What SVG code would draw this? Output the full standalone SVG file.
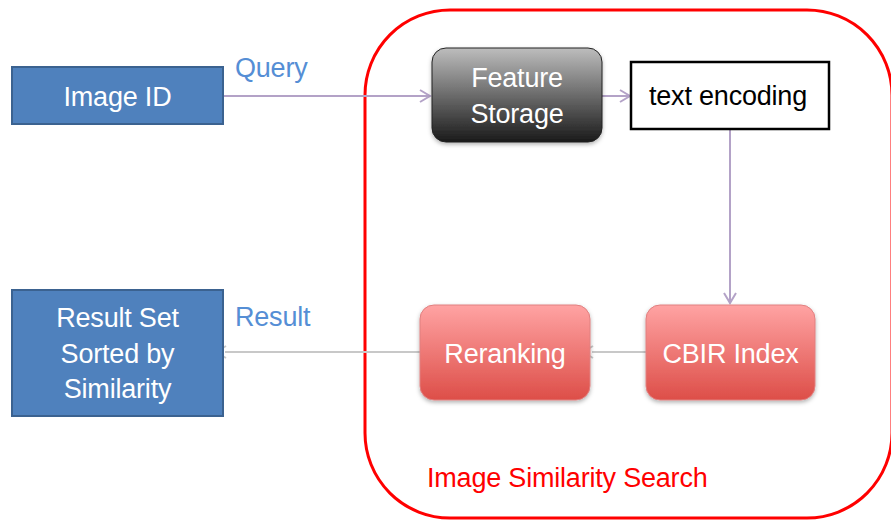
<svg xmlns="http://www.w3.org/2000/svg" width="891" height="520" viewBox="0 0 891 520">
<defs>
<linearGradient id="gGray" x1="0" y1="0" x2="0" y2="1">
<stop offset="0" stop-color="#BDBDBD"/>
<stop offset="1" stop-color="#1A1A1A"/>
</linearGradient>
<linearGradient id="gRed" x1="0" y1="0" x2="0" y2="1">
<stop offset="0" stop-color="#FFA3A3"/>
<stop offset="1" stop-color="#DD4E48"/>
</linearGradient>
<filter id="sh" x="-10%" y="-10%" width="120%" height="130%">
<feDropShadow dx="0" dy="2" stdDeviation="2" flood-color="#000" flood-opacity="0.3"/>
</filter>
<marker id="aP" markerWidth="14" markerHeight="14" refX="11" refY="7" orient="auto" markerUnits="userSpaceOnUse">
<path d="M1,1 L11,7 L1,13" fill="none" stroke="#B3A2C7" stroke-width="2"/>
</marker>
<marker id="aG" markerWidth="14" markerHeight="14" refX="2" refY="7" orient="auto-start-reverse" markerUnits="userSpaceOnUse">
<path d="M1,1 L11,7 L1,13" fill="none" stroke="#C8C8C8" stroke-width="2"/>
</marker>
</defs>
<style>
text{font-family:"Liberation Sans",Arial,sans-serif;font-size:27px;letter-spacing:-0.2px}
.w{fill:#fff;text-anchor:middle}
.lbl{fill:#558ED5}
.blue{fill:#4F81BD;stroke:#3B6290;stroke-width:2}
</style>
<rect x="365" y="10" width="527" height="508" rx="85" fill="none" stroke="#FF0000" stroke-width="3"/>
<text x="427" y="487" fill="#FF0000">Image Similarity Search</text>
<g id="connectors" fill="none" stroke-width="2">
<line x1="223" y1="96" x2="430" y2="96" stroke="#B3A2C7" marker-end="url(#aP)"/>
<line x1="602" y1="96" x2="630" y2="96" stroke="#B3A2C7" marker-end="url(#aP)"/>
<line x1="730" y1="129" x2="730" y2="303" stroke="#B3A2C7" marker-end="url(#aP)"/>
<line x1="646" y1="352" x2="592" y2="352" stroke="#C8C8C8" marker-end="url(#aG)"/>
<line x1="420" y1="352" x2="225" y2="352" stroke="#C8C8C8" marker-end="url(#aG)"/>
</g>
<text class="lbl" x="235" y="77">Query</text>
<text class="lbl" x="235" y="326">Result</text>
<g id="imageid">
<rect class="blue" x="12" y="67" width="211" height="57"/>
<text class="w" x="117.5" y="106">Image ID</text>
</g>
<g id="feature">
<rect x="432" y="48" width="170" height="94" rx="14" fill="url(#gGray)" stroke="#222" stroke-width="1" filter="url(#sh)"/>
<text class="w" x="517" y="87">Feature</text>
<text class="w" x="517" y="123">Storage</text>
</g>
<g id="textenc">
<rect x="631" y="62" width="198" height="67" fill="#fff" stroke="#000" stroke-width="2.5"/>
<text x="728" y="105" fill="#000" text-anchor="middle">text encoding</text>
</g>
<g id="cbir">
<rect x="646" y="305" width="169" height="95" rx="14" fill="url(#gRed)" stroke="#E08080" stroke-width="1" filter="url(#sh)"/>
<text class="w" x="730.5" y="363">CBIR Index</text>
</g>
<g id="rerank">
<rect x="420" y="305" width="170" height="95" rx="14" fill="url(#gRed)" stroke="#E08080" stroke-width="1" filter="url(#sh)"/>
<text class="w" x="505" y="363">Reranking</text>
</g>
<g id="result">
<rect class="blue" x="12" y="290" width="211" height="126"/>
<text class="w" x="117.5" y="327">Result Set</text>
<text class="w" x="117.5" y="363">Sorted by</text>
<text class="w" x="117.5" y="398">Similarity</text>
</g>
</svg>
